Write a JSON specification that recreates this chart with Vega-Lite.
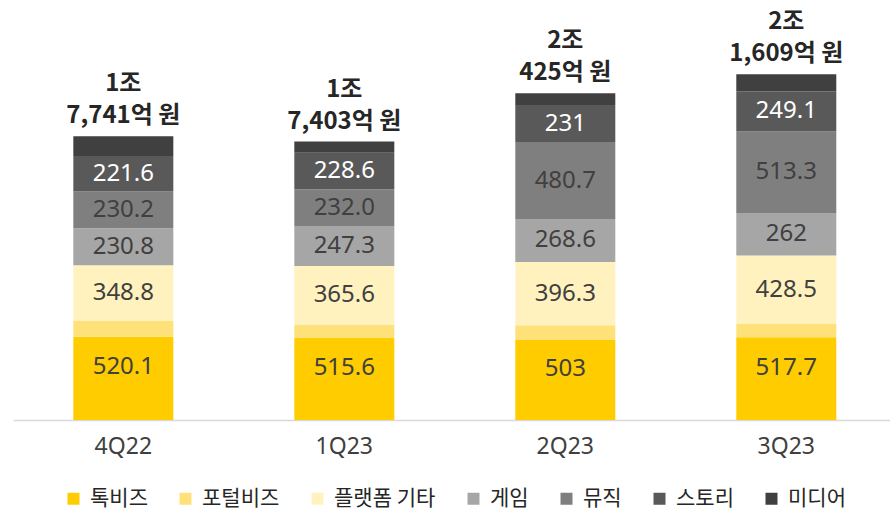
{
  "$schema": "https://vega.github.io/schema/vega-lite/v6.json",
  "width": 877,
  "height": 420,
  "autosize": {"type": "none"},
  "padding": {"left": 13, "top": 0, "right": 0, "bottom": 92},
  "background": "white",
  "config": {"view": {"stroke": null}, "font": "Noto Sans"},
  "datasets": {
    "seg": [
      {"q": "4Q22", "seg": "톡비즈", "k": 1, "v": 520.1, "lab": "520.1"},
      {"q": "4Q22", "seg": "포털비즈", "k": 2, "v": 98.0, "lab": ""},
      {"q": "4Q22", "seg": "플랫폼 기타", "k": 3, "v": 348.8, "lab": "348.8"},
      {"q": "4Q22", "seg": "게임", "k": 4, "v": 230.8, "lab": "230.8"},
      {"q": "4Q22", "seg": "뮤직", "k": 5, "v": 230.2, "lab": "230.2"},
      {"q": "4Q22", "seg": "스토리", "k": 6, "v": 221.6, "lab": "221.6"},
      {"q": "4Q22", "seg": "미디어", "k": 7, "v": 124.6, "lab": ""},
      {"q": "1Q23", "seg": "톡비즈", "k": 1, "v": 515.6, "lab": "515.6"},
      {"q": "1Q23", "seg": "포털비즈", "k": 2, "v": 81.0, "lab": ""},
      {"q": "1Q23", "seg": "플랫폼 기타", "k": 3, "v": 365.6, "lab": "365.6"},
      {"q": "1Q23", "seg": "게임", "k": 4, "v": 247.3, "lab": "247.3"},
      {"q": "1Q23", "seg": "뮤직", "k": 5, "v": 232.0, "lab": "232.0"},
      {"q": "1Q23", "seg": "스토리", "k": 6, "v": 228.6, "lab": "228.6"},
      {"q": "1Q23", "seg": "미디어", "k": 7, "v": 70.2, "lab": ""},
      {"q": "2Q23", "seg": "톡비즈", "k": 1, "v": 503, "lab": "503"},
      {"q": "2Q23", "seg": "포털비즈", "k": 2, "v": 88.6, "lab": ""},
      {"q": "2Q23", "seg": "플랫폼 기타", "k": 3, "v": 396.3, "lab": "396.3"},
      {"q": "2Q23", "seg": "게임", "k": 4, "v": 268.6, "lab": "268.6"},
      {"q": "2Q23", "seg": "뮤직", "k": 5, "v": 480.7, "lab": "480.7"},
      {"q": "2Q23", "seg": "스토리", "k": 6, "v": 231, "lab": "231"},
      {"q": "2Q23", "seg": "미디어", "k": 7, "v": 74.3, "lab": ""},
      {"q": "3Q23", "seg": "톡비즈", "k": 1, "v": 517.7, "lab": "517.7"},
      {"q": "3Q23", "seg": "포털비즈", "k": 2, "v": 82.2, "lab": ""},
      {"q": "3Q23", "seg": "플랫폼 기타", "k": 3, "v": 428.5, "lab": "428.5"},
      {"q": "3Q23", "seg": "게임", "k": 4, "v": 262, "lab": "262"},
      {"q": "3Q23", "seg": "뮤직", "k": 5, "v": 513.3, "lab": "513.3"},
      {"q": "3Q23", "seg": "스토리", "k": 6, "v": 249.1, "lab": "249.1"},
      {"q": "3Q23", "seg": "미디어", "k": 7, "v": 108.1, "lab": ""}
    ],
    "tot": [
      {"q": "4Q22", "total": 1774.1, "lines": ["1조", "7,741억 원"]},
      {"q": "1Q23", "total": 1740.3, "lines": ["1조", "7,403억 원"]},
      {"q": "2Q23", "total": 2042.5, "lines": ["2조", "425억 원"]},
      {"q": "3Q23", "total": 2160.9, "lines": ["2조", "1,609억 원"]}
    ]
  },
  "layer": [
    {
      "data": {"name": "seg"},
      "mark": {"type": "bar"},
      "encoding": {
        "x": {
          "field": "q", "type": "nominal", "sort": null,
          "scale": {"paddingInner": 0.5475, "paddingOuter": 0.258, "align": 0.529},
          "axis": {
            "title": null, "labelAngle": 0, "domainColor": "#D9D9D9", "domainWidth": 1.5,
            "ticks": false, "tickSize": 0, "labelPadding": 26, "labelBaseline": "middle",
            "labelFontSize": 23, "labelColor": "#404040", "labelFont": "Noto Sans"
          }
        },
        "y": {
          "field": "v", "type": "quantitative", "stack": "zero",
          "scale": {"domain": [0, 2625], "nice": false, "zero": true}, "axis": null
        },
        "color": {
          "field": "seg", "type": "nominal",
          "scale": {
            "domain": ["톡비즈", "포털비즈", "플랫폼 기타", "게임", "뮤직", "스토리", "미디어"],
            "range": ["#FFCC00", "#FFE17A", "#FFF2BF", "#A6A6A6", "#7F7F7F", "#595959", "#404040"]
          },
          "legend": {
            "orient": "none", "legendX": 50, "legendY": 488, "direction": "horizontal",
            "columns": 7, "title": null, "symbolType": "square", "symbolSize": 144,
            "symbolStrokeWidth": 0, "symbolOpacity": 1, "labelFontSize": 21,
            "labelFont": "Noto Sans CJK KR", "labelColor": "#262626", "labelOffset": 6,
            "columnPadding": 27, "labelLimit": 300
          }
        },
        "order": {"field": "k", "type": "quantitative"}
      }
    },
    {
      "data": {"name": "seg"},
      "mark": {"type": "text", "fontSize": 24, "font": "Noto Sans", "baseline": "middle"},
      "encoding": {
        "x": {"field": "q", "type": "nominal", "sort": null},
        "y": {"field": "v", "type": "quantitative", "stack": "zero", "bandPosition": 0.5},
        "detail": {"field": "seg"},
        "order": {"field": "k", "type": "quantitative"},
        "text": {"condition": {"test": "datum.seg !== '톡비즈'", "field": "lab"}, "value": ""},
        "color": {"condition": {"test": "datum.seg === '스토리'", "value": "#FFFFFF"}, "value": "#404040"}
      }
    },
    {
      "data": {"name": "seg"},
      "mark": {"type": "text", "fontSize": 24, "font": "Noto Sans", "baseline": "middle", "dy": -11, "color": "#404040"},
      "encoding": {
        "x": {"field": "q", "type": "nominal", "sort": null},
        "y": {"field": "v", "type": "quantitative", "stack": "zero", "bandPosition": 0.5},
        "detail": {"field": "seg"},
        "order": {"field": "k", "type": "quantitative"},
        "text": {"condition": {"test": "datum.seg === '톡비즈'", "field": "lab"}, "value": ""}
      }
    },
    {
      "data": {"name": "tot"},
      "mark": {
        "type": "text", "baseline": "bottom", "dy": -40, "fontSize": 24, "fontWeight": "bold",
        "font": "Noto Sans CJK KR", "lineHeight": 32, "color": "#262626"
      },
      "encoding": {
        "x": {"field": "q", "type": "nominal", "sort": null},
        "y": {"field": "total", "type": "quantitative"},
        "text": {"field": "lines"}
      }
    }
  ]
}
